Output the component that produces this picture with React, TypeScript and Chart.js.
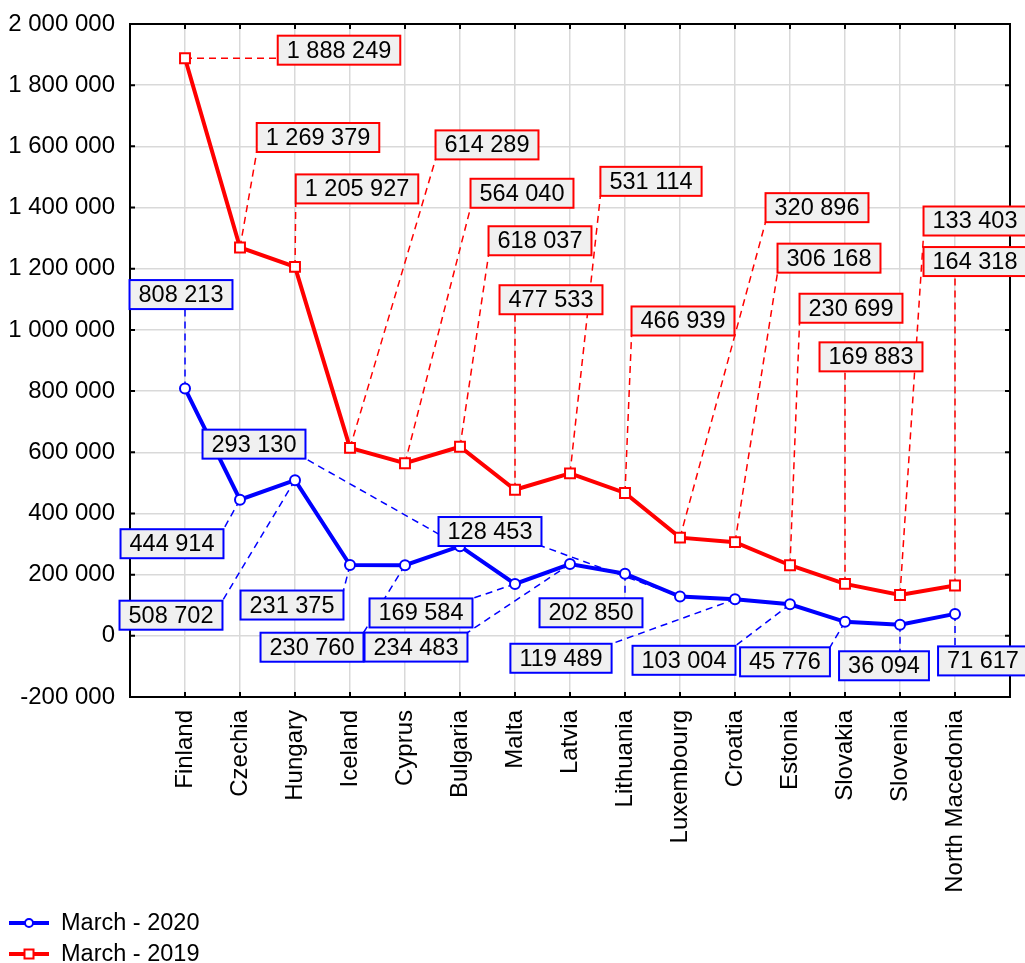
import { useEffect, useRef } from 'react';
import { Chart, registerables } from 'chart.js';

Chart.register(...registerables);

const countries = [
  'Finland', 'Czechia', 'Hungary', 'Iceland', 'Cyprus', 'Bulgaria', 'Malta', 'Latvia',
  'Lithuania', 'Luxembourg', 'Croatia', 'Estonia', 'Slovakia', 'Slovenia', 'North Macedonia',
];
const march2020 = [
  808213, 444914, 508702, 231375, 230760, 293130, 169584, 234483,
  202850, 128453, 119489, 103004, 45776, 36094, 71617,
];
const march2019 = [
  1888249, 1269379, 1205927, 614289, 564040, 618037, 477533, 531114,
  466939, 320896, 306168, 230699, 169883, 133403, 164318,
];
const yMin = -200000;
const yMax = 2000000;
const yStep = 200000;
const seriesNames = ['March - 2020', 'March - 2019'];

// label box placement: pixel offset of the box centre from its point
const offsets2020 = [
  [-4, -94], [-68, 44], [-124, 135], [-58, 40], [-93, 82], [-206, -102], [-94, 29], [-154, 83],
  [-34, 39], [-190, -65], [-174, 59], [-106, 56], [-60, 40], [-16, 41], [28, 47],
];
const offsets2019 = [
  [154, -8], [78, -110], [62, -78], [137, -303], [117, -270], [80, -206], [36, -190], [81, -292],
  [58, -172], [137, -330], [94, -284], [61, -257], [26, -227], [75, -374], [20, -324],
];

const FAMILY = '"Liberation Sans", Arial, sans-serif';
const FONT = `23.5px ${FAMILY}`;
const BLUE = '#0000ff';
const RED = '#ff0000';

const fmt = (v: number) => {
  const s = String(Math.abs(Math.round(v))).replace(/\B(?=(\d{3})+(?!\d))/g, ' ');
  return v < 0 ? '-' + s : s;
};

function boxFor(ctx: CanvasRenderingContext2D, px: number, py: number, off: number[], text: string) {
  ctx.font = FONT;
  const w = ctx.measureText(text).width + 18;
  const h = 29;
  const cx = px + off[0];
  const cy = py + off[1];
  return { l: cx - w / 2, t: cy - h / 2, w, h, cx, cy };
}

const groups = [
  { ds: 0, values: march2020, offsets: offsets2020, color: BLUE },
  { ds: 1, values: march2019, offsets: offsets2019, color: RED },
];

const annotPlugin = {
  id: 'annot',
  beforeDatasetsDraw(chart: any) {
    const ctx: CanvasRenderingContext2D = chart.ctx;
    ctx.save();
    groups.forEach((g) => {
      const meta = chart.getDatasetMeta(g.ds);
      meta.data.forEach((pt: any, i: number) => {
        const b = boxFor(ctx, pt.x, pt.y, g.offsets[i], fmt(g.values[i]));
        const qx = Math.max(b.l, Math.min(pt.x, b.l + b.w));
        const qy = Math.max(b.t, Math.min(pt.y, b.t + b.h));
        ctx.beginPath();
        ctx.setLineDash([7, 5]);
        ctx.strokeStyle = g.color;
        ctx.lineWidth = 1.5;
        ctx.moveTo(pt.x, pt.y);
        ctx.lineTo(qx, qy);
        ctx.stroke();
      });
    });
    ctx.restore();
  },
  afterDatasetsDraw(chart: any) {
    const ctx: CanvasRenderingContext2D = chart.ctx;
    const { left, right, top, bottom } = chart.chartArea;
    ctx.save();
    ctx.strokeStyle = '#000';
    ctx.lineWidth = 2;
    const ys = chart.scales.y;
    for (let v = yMin; v <= yMax; v += yStep) {
      const y = ys.getPixelForValue(v);
      ctx.beginPath();
      ctx.moveTo(left, y); ctx.lineTo(left + 5, y);
      ctx.moveTo(right, y); ctx.lineTo(right - 5, y);
      ctx.stroke();
    }
    const xs = chart.scales.x;
    countries.forEach((_, i) => {
      const x = xs.getPixelForValue(i);
      ctx.beginPath();
      ctx.moveTo(x, top); ctx.lineTo(x, top + 5);
      ctx.moveTo(x, bottom); ctx.lineTo(x, bottom - 5);
      ctx.stroke();
    });
    ctx.strokeRect(left, top, right - left, bottom - top);
    ctx.font = FONT;
    ctx.textAlign = 'center';
    ctx.textBaseline = 'middle';
    groups.forEach((g) => {
      const meta = chart.getDatasetMeta(g.ds);
      meta.data.forEach((pt: any, i: number) => {
        const text = fmt(g.values[i]);
        const b = boxFor(ctx, pt.x, pt.y, g.offsets[i], text);
        ctx.fillStyle = '#f0f0f0';
        ctx.fillRect(b.l, b.t, b.w, b.h);
        ctx.strokeStyle = g.color;
        ctx.lineWidth = 2;
        ctx.strokeRect(b.l, b.t, b.w, b.h);
        ctx.fillStyle = '#000';
        ctx.fillText(text, b.cx, b.cy + 1);
      });
    });
    ctx.restore();
  },
  afterDraw(chart: any) {
    const ctx: CanvasRenderingContext2D = chart.ctx;
    const items = [
      { label: chart.data.datasets[0].label, color: BLUE, style: 'circle', y: chart.height - 40 },
      { label: chart.data.datasets[1].label, color: RED, style: 'rect', y: chart.height - 9 },
    ];
    ctx.save();
    items.forEach((it) => {
      ctx.strokeStyle = it.color;
      ctx.lineWidth = 4;
      ctx.beginPath();
      ctx.moveTo(9, it.y); ctx.lineTo(49, it.y);
      ctx.stroke();
      ctx.lineWidth = 2;
      ctx.fillStyle = '#fff';
      ctx.beginPath();
      if (it.style === 'circle') ctx.arc(29, it.y, 4, 0, Math.PI * 2);
      else ctx.rect(24.5, it.y - 4.5, 9, 9);
      ctx.fill();
      ctx.stroke();
      ctx.fillStyle = '#000';
      ctx.font = FONT;
      ctx.textAlign = 'left';
      ctx.textBaseline = 'middle';
      ctx.fillText(it.label, 61, it.y + 1);
    });
    ctx.restore();
  },
};

export default function App() {
  const ref = useRef<HTMLCanvasElement>(null);
  useEffect(() => {
    const grid = { color: '#d9d9d9', lineWidth: 1.5, drawTicks: false };
    const chart = new Chart(ref.current!, {
      type: 'line',
      data: {
        datasets: [
          {
            label: seriesNames[0],
            data: march2020.map((v, i) => ({ x: i, y: v })),
            borderColor: BLUE,
            backgroundColor: '#ffffff',
            borderWidth: 4,
            pointStyle: 'circle',
            pointRadius: 5,
            pointBorderWidth: 2,
            pointBackgroundColor: '#ffffff',
            pointBorderColor: BLUE,
            tension: 0,
          },
          {
            label: seriesNames[1],
            data: march2019.map((v, i) => ({ x: i, y: v })),
            borderColor: RED,
            backgroundColor: '#ffffff',
            borderWidth: 4,
            pointStyle: 'rect',
            pointRadius: 7,
            pointBorderWidth: 2,
            pointBackgroundColor: '#ffffff',
            pointBorderColor: RED,
            tension: 0,
          },
        ],
      },
      options: {
        responsive: false,
        animation: false,
        devicePixelRatio: 1,
        layout: { padding: { top: 24, right: 15, left: 0, bottom: 0 } },
        plugins: { legend: { display: false }, tooltip: { enabled: false } },
        scales: {
          x: {
            type: 'linear',
            min: -1,
            max: 15,
            afterFit: (s: any) => {
              s.height = 266;
              s.paddingLeft = 0;
              s.paddingRight = 0;
              s.paddingTop = 0;
              s.paddingBottom = 0;
            },
            ticks: {
              stepSize: 1,
              autoSkip: false,
              minRotation: 90,
              maxRotation: 90,
              padding: 13,
              color: '#000',
              font: { family: FAMILY, size: 24 },
              callback: (v: any) => countries[Math.round(Number(v))] ?? '',
            },
            grid,
            border: { display: false },
          },
          y: {
            min: yMin,
            max: yMax,
            afterFit: (s: any) => {
              s.width = 130;
              s.paddingTop = 0;
              s.paddingBottom = 0;
              s.paddingLeft = 0;
              s.paddingRight = 0;
            },
            ticks: {
              stepSize: yStep,
              padding: 15,
              color: '#000',
              font: { family: FAMILY, size: 24 },
              callback: (v: any) => fmt(Number(v)),
            },
            grid,
            border: { display: false },
          },
        },
      } as any,
      plugins: [annotPlugin],
    });
    return () => chart.destroy();
  }, []);
  return (
    <div style={{ position: 'fixed', left: 0, top: 0, width: 1025, height: 963, background: '#fff' }}>
      <canvas ref={ref} width={1025} height={963} style={{ display: 'block' }} />
    </div>
  );
}
